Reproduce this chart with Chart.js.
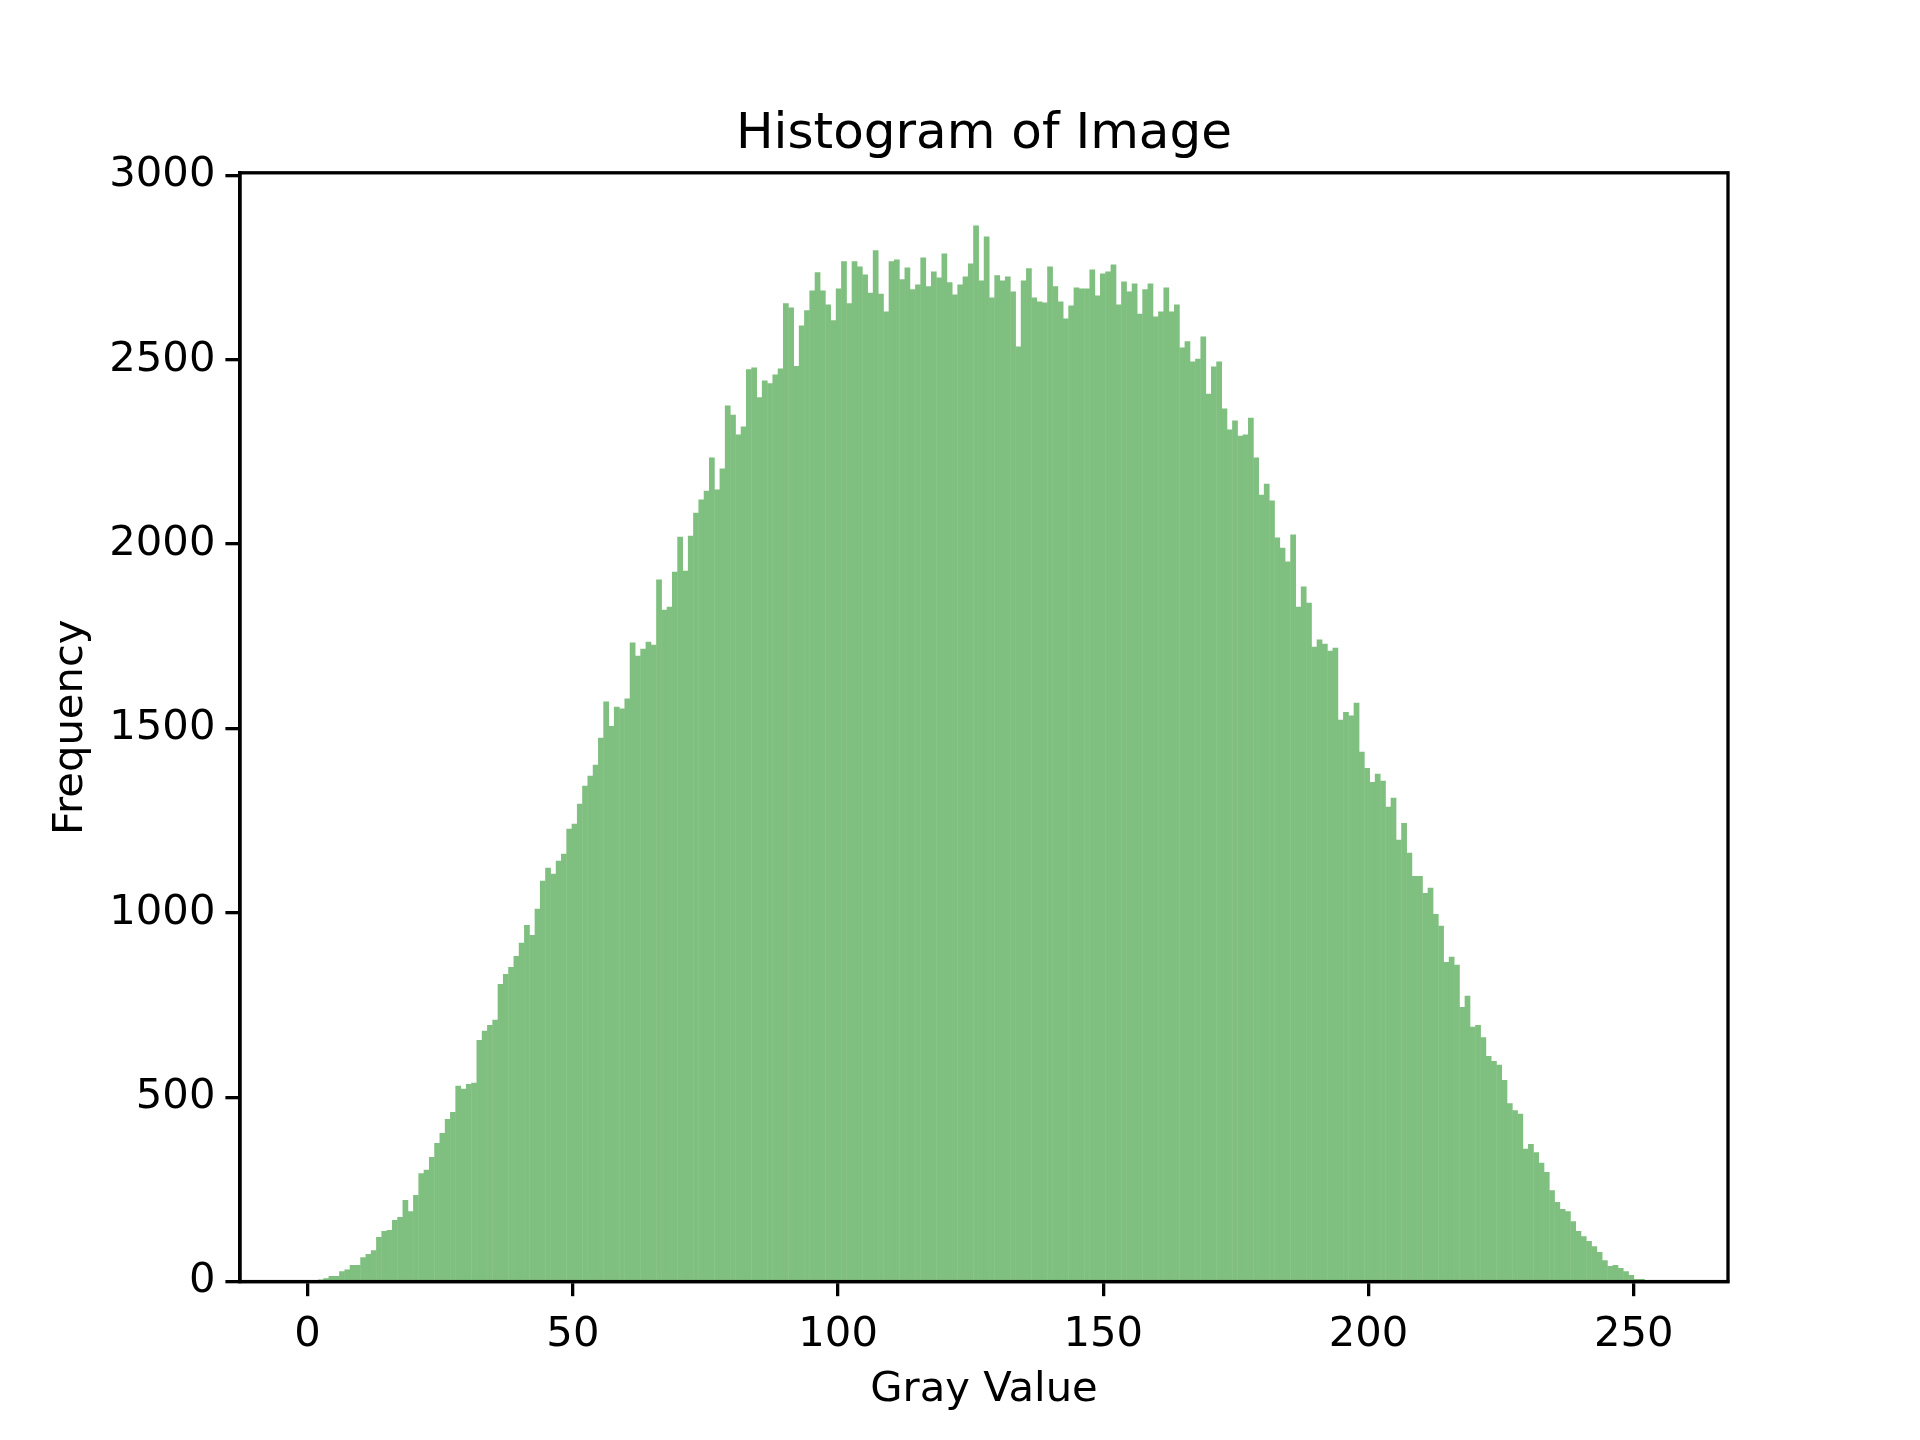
<!DOCTYPE html>
<html>
<head>
<meta charset="utf-8">
<title>Histogram of Image</title>
<script src="https://cdn.jsdelivr.net/npm/chart.js@4.4.1/dist/chart.umd.min.js"></script>
<style>
  html, body { margin: 0; padding: 0; background: #ffffff; }
  #wrap { width: 1920px; height: 1440px; }
</style>
</head>
<body>
<div id="wrap"><canvas id="hist" width="1920" height="1440"></canvas></div>
<script>
// histogram counts per gray level bin (256 bins over 0..255)
const frequency = [
  1, 3, 6, 9, 15, 15, 28, 33, 45, 45,
  66, 75, 85, 121, 137, 140, 167, 175, 221, 191,
  235, 294, 303, 338, 376, 403, 441, 460, 531, 523,
  536, 539, 655, 680, 696, 710, 807, 834, 853, 883,
  919, 967, 940, 1011, 1087, 1122, 1106, 1141, 1160, 1228,
  1242, 1296, 1345, 1372, 1402, 1475, 1573, 1507, 1559, 1554,
  1581, 1733, 1697, 1716, 1735, 1727, 1904, 1822, 1830, 1925,
  2020, 1928, 2023, 2085, 2121, 2145, 2235, 2148, 2205, 2376,
  2351, 2297, 2319, 2474, 2479, 2398, 2444, 2436, 2460, 2476,
  2653, 2642, 2483, 2593, 2634, 2688, 2737, 2688, 2650, 2607,
  2693, 2767, 2653, 2767, 2753, 2731, 2682, 2797, 2679, 2631,
  2767, 2772, 2718, 2750, 2691, 2704, 2777, 2699, 2739, 2723,
  2788, 2710, 2677, 2704, 2726, 2761, 2864, 2715, 2834, 2669,
  2729, 2715, 2726, 2685, 2536, 2715, 2748, 2669, 2658, 2655,
  2753, 2699, 2658, 2612, 2647, 2696, 2693, 2693, 2745, 2674,
  2734, 2739, 2758, 2650, 2712, 2685, 2707, 2625, 2691, 2707,
  2617, 2631, 2696, 2631, 2650, 2533, 2550, 2495, 2503, 2563,
  2408, 2482, 2495, 2368, 2311, 2335, 2294, 2297, 2343, 2235,
  2134, 2164, 2118, 2018, 1990, 1953, 2026, 1830, 1885, 1841,
  1722, 1741, 1730, 1711, 1719, 1524, 1545, 1535, 1570, 1437,
  1393, 1355, 1377, 1358, 1288, 1312, 1198, 1244, 1163, 1100,
  1100, 1054, 1068, 997, 965, 867, 881, 859, 745, 775,
  691, 696, 663, 612, 598, 588, 547, 484, 465, 455,
  360, 373, 351, 322, 297, 248, 216, 197, 191, 164,
  137, 123, 110, 96, 80, 58, 42, 45, 37, 28,
  18, 7, 7, 4, 1, 0
];

// bins span gray values 0..255
const grayMin = 0;
const grayMax = 255;

const xTicks = [0, 50, 100, 150, 200, 250];
const yTicks = [0, 500, 1000, 1500, 2000, 2500, 3000];

const titleText = "Histogram of Image";
const xLabel = "Gray Value";
const yLabel = "Frequency";

// bin centers from the bin edges
const binWidth = (grayMax - grayMin) / frequency.length;
const points = frequency.map((v, i) => ({ x: grayMin + (i + 0.5) * binWidth, y: v }));

const FONT = "DejaVu Sans";
Chart.defaults.font.family = FONT;
Chart.defaults.color = "#000000";

// frame, title and axis labels drawn like matplotlib
const decorations = {
  id: "decorations",
  afterDraw(chart) {
    const { ctx, chartArea } = chart;
    const { left, right, top, bottom } = chartArea;
    ctx.save();
    ctx.strokeStyle = "#000000";
    ctx.lineWidth = 3.33;
    ctx.strokeRect(left, top, right - left, bottom - top);

    ctx.fillStyle = "#000000";
    ctx.textAlign = "center";
    ctx.textBaseline = "alphabetic";
    ctx.font = "50px '" + FONT + "'";
    ctx.fillText(titleText, (left + right) / 2, top - 25);

    ctx.font = "41.7px '" + FONT + "'";
    ctx.fillText(xLabel, (left + right) / 2, 1401);

    ctx.translate(82, (top + bottom) / 2);
    ctx.rotate(-Math.PI / 2);
    ctx.fillText(yLabel, 0, 0);
    ctx.restore();
  }
};

new Chart(document.getElementById("hist"), {
  type: "bar",
  data: {
    datasets: [{
      data: points,
      backgroundColor: "rgb(127,191,127)",
      borderWidth: 0,
      barPercentage: 1.08,
      categoryPercentage: 1.0
    }]
  },
  options: {
    responsive: false,
    animation: false,
    devicePixelRatio: 1,
    layout: { padding: { top: 172.8, right: 192, bottom: 0, left: 0 } },
    plugins: {
      legend: { display: false },
      tooltip: { enabled: false },
      title: { display: false }
    },
    scales: {
      x: {
        type: "linear",
        min: -12.75,
        max: 267.75,
        offset: false,
        afterBuildTicks: (s) => { s.ticks = xTicks.map((v) => ({ value: v })); },
        afterFit: (s) => { s.height = 158.4; },
        ticks: {
          font: { size: 41.7 },
          color: "#000000",
          padding: 14,
          maxRotation: 0,
          autoSkip: false,
          includeBounds: false,
          callback: (v) => String(v)
        },
        grid: {
          offset: false,
          drawOnChartArea: false,
          drawTicks: true,
          tickLength: 14.6,
          lineWidth: 3.3,
          color: "#000000"
        },
        border: { display: true, width: 3.3, color: "#000000" }
      },
      y: {
        type: "linear",
        min: 0,
        max: 3007,
        afterBuildTicks: (s) => { s.ticks = yTicks.map((v) => ({ value: v })); },
        afterFit: (s) => { s.width = 240; },
        ticks: {
          font: { size: 41.7 },
          color: "#000000",
          padding: 10,
          autoSkip: false,
          includeBounds: false,
          callback: (v) => String(v)
        },
        grid: {
          drawOnChartArea: false,
          drawTicks: true,
          tickLength: 14.6,
          lineWidth: 3.3,
          color: "#000000"
        },
        border: { display: true, width: 3.3, color: "#000000" }
      }
    }
  },
  plugins: [decorations]
});
</script>
</body>
</html>
